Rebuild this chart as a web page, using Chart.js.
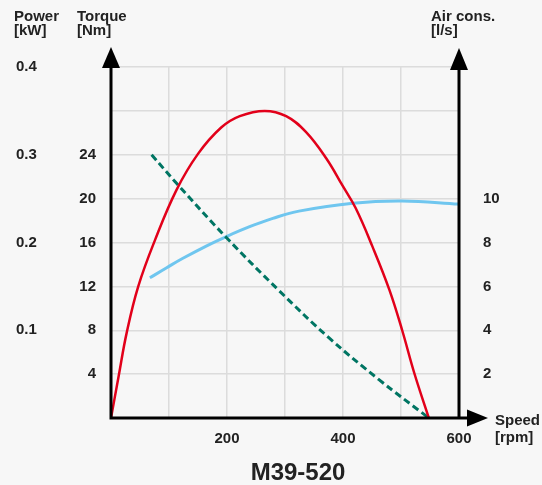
<!DOCTYPE html>
<html>
<head>
<meta charset="utf-8">
<script src="https://cdn.jsdelivr.net/npm/chart.js@4/dist/chart.umd.min.js"></script>
<style>
  html, body { margin: 0; padding: 0; background: #f7f7f7; }
  #wrap { width: 542px; height: 485px; }
</style>
</head>
<body>
<div id="wrap"><canvas id="motorChart" width="542" height="485"></canvas></div>
<script>
// values
const powerRpm = [0, 13, 27, 47, 76, 113, 150, 190, 222, 265, 302, 336, 371, 399, 422, 451, 480, 502, 523, 548];
const powerKw = [0, 0.047, 0.097, 0.15, 0.203, 0.26, 0.301, 0.331, 0.344, 0.35, 0.344, 0.326, 0.296, 0.265, 0.239, 0.195, 0.146, 0.1, 0.051, 0];

const torqueRpm = [70, 113, 198, 290, 376, 462, 548];
const torqueNm = [24, 21.4, 16.5, 11.6, 7.3, 3.5, 0];

const airRpm = [67, 96, 124, 165, 198, 239, 279, 324, 417, 502, 600];
const airLs = [6.39, 6.85, 7.28, 7.85, 8.26, 8.72, 9.1, 9.43, 9.79, 9.89, 9.75];

const speedLabels = [200, 400, 600];
const torqueLabels = [4, 8, 12, 16, 20, 24];
const powerLabels = [0.1, 0.2, 0.3, 0.4];
const airLabels = [2, 4, 6, 8, 10];

const FONT = '"Liberation Sans", Arial, sans-serif';
const INK = "#222222";
const GRID = "#dcdcdc";

const toPoints = (xs, ys) => xs.map((x, i) => ({ x: x, y: ys[i] }));
const near = (list, v) => list.some(l => Math.abs(l - v) < 1e-6);

// axis lines with arrow heads, and the unit captions
const decorations = {
  id: "decorations",
  afterDraw(chart) {
    const { ctx, chartArea: a } = chart;
    ctx.save();
    ctx.strokeStyle = "#000";
    ctx.fillStyle = "#000";
    ctx.lineWidth = 3;
    ctx.beginPath();
    ctx.moveTo(a.left, a.bottom + 1.5);
    ctx.lineTo(a.left, a.top);
    ctx.moveTo(a.right, a.bottom);
    ctx.lineTo(a.right, a.top + 2);
    ctx.moveTo(a.left - 1.5, a.bottom);
    ctx.lineTo(a.right + 8, a.bottom);
    ctx.stroke();

    const arrow = (p1, p2, p3) => {
      ctx.beginPath();
      ctx.moveTo(p1[0], p1[1]);
      ctx.lineTo(p2[0], p2[1]);
      ctx.lineTo(p3[0], p3[1]);
      ctx.closePath();
      ctx.fill();
    };
    arrow([a.left - 9, a.top + 1], [a.left, a.top - 20], [a.left + 9, a.top + 1]);
    arrow([a.right - 9, a.top + 3], [a.right, a.top - 19], [a.right + 9, a.top + 3]);
    arrow([a.right + 8, a.bottom - 8.5], [a.right + 29, a.bottom], [a.right + 8, a.bottom + 8.5]);

    ctx.fillStyle = INK;
    ctx.textAlign = "left";
    ctx.textBaseline = "alphabetic";
    ctx.font = "bold 15px " + FONT;
    ctx.fillText("Power", 14, 21);
    ctx.fillText("[kW]", 14, 35);
    ctx.fillText("Torque", 77, 21);
    ctx.fillText("[Nm]", 77, 35);
    ctx.fillText("Air cons.", 431, 21);
    ctx.fillText("[l/s]", 431, 35);
    ctx.fillText("Speed", 495, 425);
    ctx.fillText("[rpm]", 495, 442);

    ctx.textAlign = "center";
    ctx.font = "bold 24px " + FONT;
    ctx.fillText("M39-520", 298, 480);
    ctx.restore();
  },
};

new Chart(document.getElementById("motorChart"), {
  type: "line",
  data: {
    datasets: [
      {
        label: "Power",
        data: toPoints(powerRpm, powerKw),
        yAxisID: "power",
        borderColor: "#e2001a",
        borderWidth: 2.5,
        tension: 0.4,
        pointRadius: 0,
      },
      {
        label: "Torque",
        data: toPoints(torqueRpm, torqueNm),
        yAxisID: "torque",
        borderColor: "#007563",
        borderWidth: 3,
        borderDash: [7, 4],
        tension: 0.4,
        pointRadius: 0,
      },
      {
        label: "Air consumption",
        data: toPoints(airRpm, airLs),
        yAxisID: "air",
        borderColor: "#6fc6ef",
        borderWidth: 3,
        tension: 0.4,
        pointRadius: 0,
      },
    ],
  },
  options: {
    responsive: false,
    animation: false,
    layout: { padding: { left: 16, top: 67, right: 0, bottom: 33 } },
    plugins: { legend: { display: false }, tooltip: { enabled: false } },
    scales: {
      x: {
        type: "linear",
        min: 0,
        max: 600,
        ticks: {
          stepSize: 100,
          padding: 12,
          color: INK,
          font: { family: FONT, size: 15, weight: "bold" },
          callback: v => (near(speedLabels, v) ? v : ""),
        },
        grid: { color: GRID, lineWidth: 1.5, drawTicks: false },
        border: { display: false },
        afterFit: s => { s.height = 34; },
      },
      power: {
        position: "left",
        weight: 1,
        min: 0,
        max: 0.4,
        ticks: {
          stepSize: 0.1,
          crossAlign: "far",
          color: INK,
          font: { family: FONT, size: 15, weight: "bold" },
          callback: v => (near(powerLabels, v) ? v.toFixed(1) : ""),
        },
        grid: { display: false },
        border: { display: false },
        afterFit: s => { s.width = 50; },
      },
      torque: {
        position: "left",
        weight: 0,
        min: 0,
        max: 32,
        ticks: {
          stepSize: 4,
          padding: 15,
          color: INK,
          font: { family: FONT, size: 15, weight: "bold" },
          callback: v => (near(torqueLabels, v) ? v : ""),
        },
        grid: { color: GRID, lineWidth: 1.5, drawTicks: false },
        border: { display: false },
        afterFit: s => { s.width = 45; },
      },
      air: {
        position: "right",
        min: 0,
        max: 16,
        ticks: {
          stepSize: 2,
          padding: 16,
          color: INK,
          font: { family: FONT, size: 15, weight: "bold" },
          callback: v => (near(airLabels, v) ? v : ""),
        },
        grid: { display: false },
        border: { display: false },
        afterFit: s => { s.width = 83; },
      },
    },
  },
  plugins: [decorations],
});
</script>
</body>
</html>
